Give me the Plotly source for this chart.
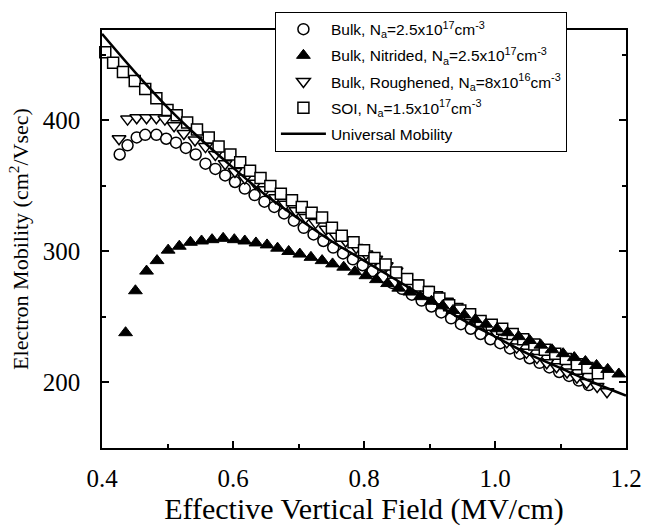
import plotly.graph_objects as go

# Bulk, Na=2.5e17 (open circles)
bulk_x = [0.427, 0.439, 0.453, 0.466, 0.483, 0.498, 0.513, 0.528, 0.543, 0.558, 0.573, 0.588, 0.603, 0.618,
          0.633, 0.648, 0.663, 0.678, 0.693, 0.708, 0.723, 0.738, 0.753, 0.768, 0.783, 0.798, 0.813, 0.828,
          0.843, 0.858, 0.873, 0.888, 0.903, 0.918, 0.933, 0.948, 0.963, 0.978, 0.993, 1.008, 1.023, 1.038,
          1.053, 1.068, 1.083, 1.098, 1.113, 1.128, 1.143]
bulk_y = [374, 381, 387, 389, 389, 386, 383, 379, 374, 367, 363, 358, 353, 348,
          343, 338, 334, 329, 323.5, 318, 313, 308, 303, 298.5, 294, 289.5, 285, 280.5,
          276, 271.5, 267, 262.5, 258, 253.5, 249, 244.5, 241, 237, 233, 230, 226, 222,
          218.5, 215, 211.5, 208, 205, 201.5, 198]

# Bulk, Nitrided (filled up-triangles)
nit_x = [0.436, 0.451, 0.468, 0.484, 0.501, 0.518, 0.535, 0.552, 0.568, 0.585, 0.602, 0.618, 0.635, 0.652,
         0.668, 0.685, 0.702, 0.719, 0.736, 0.752, 0.769, 0.786, 0.803, 0.819, 0.836, 0.853, 0.870, 0.886,
         0.903, 0.920, 0.936, 0.953, 0.970, 0.986, 1.003, 1.019, 1.036, 1.053, 1.070, 1.087, 1.104, 1.121,
         1.138, 1.155, 1.172, 1.189, 1.206]
nit_y = [238, 270, 285, 293, 301, 304, 307, 308, 309, 310, 309, 308, 306.5, 305,
         302.5, 300, 298, 295.5, 293, 290.5, 288, 284.5, 281.5, 278.5, 275.5, 272, 269, 265.5,
         262, 258.5, 255, 251.5, 248, 244.5, 241, 238, 235, 232, 228.5, 225, 222, 219,
         216, 213, 210, 206.5, 203]

# Bulk, Roughened (open down-triangles)
rough_x = [0.426, 0.439, 0.453, 0.468, 0.483, 0.496, 0.510, 0.525, 0.542, 0.558, 0.573, 0.588, 0.603, 0.618,
           0.634, 0.649, 0.665, 0.680, 0.696, 0.711, 0.726, 0.742, 0.757, 0.772, 0.788, 0.803, 0.818, 0.834,
           0.849, 0.864, 0.880, 0.895, 0.910, 0.926, 0.941, 0.956, 0.972, 0.987, 1.002, 1.018, 1.033, 1.048,
           1.064, 1.079, 1.094, 1.110, 1.125, 1.140, 1.156, 1.171]
rough_y = [386, 401, 402, 402, 402, 401, 396, 390, 385, 380, 374, 367, 361, 356,
           352, 347, 341, 336, 331, 326, 322, 317, 312, 308, 303, 298, 294, 289,
           285, 280, 276, 271, 267, 262, 258, 253, 248, 243, 238, 231, 227, 223,
           219, 215, 212, 208, 204, 200, 197, 193]

# SOI, Na=1.5e17 (open squares)
soi_x = [0.390, 0.405, 0.417, 0.432, 0.450, 0.466, 0.483, 0.500, 0.514, 0.530, 0.545, 0.563, 0.578, 0.596,
         0.611, 0.626, 0.642, 0.657, 0.673, 0.690, 0.705, 0.720, 0.736, 0.751, 0.766, 0.784, 0.800, 0.816,
         0.833, 0.849, 0.866, 0.883, 0.899, 0.915, 0.930, 0.947, 0.962, 0.978, 0.995, 1.011, 1.027, 1.043,
         1.060, 1.076, 1.092, 1.108, 1.125, 1.141, 1.157]
soi_y = [458, 452, 444, 437, 430, 424, 417, 408, 404, 398.5, 393, 387, 380, 374,
         368, 361.5, 356, 350, 344, 339, 334, 329.5, 326, 318, 312, 307, 301, 295,
         290, 284, 279, 274, 269, 264, 259, 255, 252, 247, 244, 241, 237, 233,
         229, 225, 222, 218, 214, 211, 207]

# Universal Mobility (solid line)
uni_x = [0.40, 0.45, 0.50, 0.55, 0.60, 0.65, 0.70, 0.75, 0.80, 0.85, 0.90, 0.95, 1.00, 1.05, 1.10, 1.15, 1.20]
uni_y = [466, 437, 410, 386, 364, 343, 325, 308, 293, 278, 263, 248, 235, 222, 211, 200, 190]

x_ticks = [0.4, 0.6, 0.8, 1.0, 1.2]
x_tick_text = ["0.4", "0.6", "0.8", "1.0", "1.2"]
y_ticks = [200, 300, 400]

fig = go.Figure()
mk_line = dict(color="black", width=1.5)

fig.add_trace(go.Scatter(x=bulk_x, y=bulk_y, mode="markers", cliponaxis=False, legendgroup="a",
                         name="Bulk, N<sub>a</sub>=2.5x10<sup>17</sup>cm<sup>-3</sup>", legendrank=1,
                         marker=dict(symbol="circle", size=11, color="white", line=mk_line)))
fig.add_trace(go.Scatter(x=rough_x, y=rough_y, mode="markers", cliponaxis=False, legendgroup="c",
                         name="Bulk, Roughened, N<sub>a</sub>=8x10<sup>16</sup>cm<sup>-3</sup>", legendrank=3,
                         marker=dict(symbol="triangle-down", size=12, color="white", line=mk_line)))
fig.add_trace(go.Scatter(x=soi_x, y=soi_y, mode="markers", cliponaxis=False, legendgroup="d",
                         name="SOI, N<sub>a</sub>=1.5x10<sup>17</sup>cm<sup>-3</sup>", legendrank=4,
                         marker=dict(symbol="square", size=11, color="white", line=mk_line)))
fig.add_trace(go.Scatter(x=nit_x, y=nit_y, mode="markers", cliponaxis=False, legendgroup="b",
                         name="Bulk, Nitrided, N<sub>a</sub>=2.5x10<sup>17</sup>cm<sup>-3</sup>", legendrank=2,
                         marker=dict(symbol="triangle-up", size=12, color="black", line=dict(color="black", width=1))))
fig.add_trace(go.Scatter(x=uni_x, y=uni_y, mode="lines", legendgroup="e",
                         line=dict(color="black", width=2.5, shape="spline"),
                         name="Universal Mobility", legendrank=5))

serif = "Liberation Serif, Times New Roman, serif"
fig.update_layout(
    width=654, height=527,
    margin=dict(l=102, r=21, t=25, b=72),
    plot_bgcolor="white", paper_bgcolor="white",
    showlegend=True,
    legend=dict(x=0.33, y=1.044, xanchor="left", yanchor="top",
                bgcolor="white", bordercolor="black", borderwidth=1,
                font=dict(family="Liberation Sans, Arial, sans-serif", size=15.5, color="black"),
                tracegroupgap=3, itemwidth=45, entrywidth=255, entrywidthmode="pixels"),
    xaxis=dict(range=[0.4, 1.2], tickvals=x_ticks, ticktext=x_tick_text,
               ticks="inside", ticklen=7, tickwidth=1.5, tickcolor="black",
               minor=dict(dtick=0.1, ticks="inside", ticklen=4, tickcolor="black"),
               showline=True, linecolor="black", linewidth=1.5, mirror=True,
               showgrid=False, zeroline=False, ticklabelstandoff=7,
               tickfont=dict(family=serif, size=25, color="black"),
               title=dict(text="Effective Vertical Field (MV/cm)",
                          font=dict(family=serif, size=30, color="black"), standoff=2)),
    yaxis=dict(range=[150, 469], tickvals=y_ticks,
               ticks="inside", ticklen=7, tickwidth=1.5, tickcolor="black",
               minor=dict(dtick=50, ticks="inside", ticklen=4, tickcolor="black"),
               showline=True, linecolor="black", linewidth=1.5, mirror="ticks",
               showgrid=False, zeroline=False, ticklabelstandoff=15,
               tickfont=dict(family=serif, size=25, color="black"),
               title=dict(text="Electron Mobility (cm<sup>2</sup>/Vsec)",
                          font=dict(family=serif, size=22, color="black"), standoff=8)),
)

fig.write_html("out.html")
